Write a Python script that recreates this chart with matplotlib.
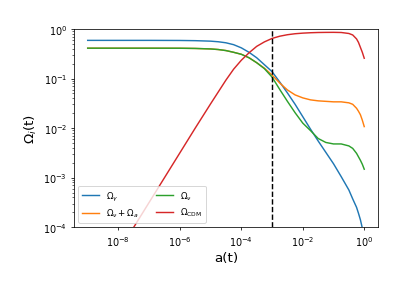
import numpy as np
import matplotlib
matplotlib.use("Agg")
import matplotlib.pyplot as plt

# scale factor grid (log10 a) and log10 of each density fraction
log_a = [-9, -8, -7, -6, -5.5, -5, -4.75, -4.5, -4.25, -4, -3.75, -3.5, -3.25, -3,
         -2.75, -2.5, -2.25, -2, -1.75, -1.5, -1.25, -1, -0.75, -0.5, -0.375, -0.25,
         -0.1875, -0.125, -0.0625, 0]

log_gamma = [-0.229, -0.229, -0.229, -0.231, -0.235, -0.245, -0.257, -0.278, -0.316, -0.38,
             -0.47, -0.58, -0.72, -0.86, -1.07, -1.29, -1.52, -1.77, -2.02, -2.26, -2.49,
             -2.72, -2.98, -3.25, -3.43, -3.6, -3.72, -3.85, -4.02, -4.25]

log_nu_a = [-0.387, -0.387, -0.387, -0.388, -0.392, -0.402, -0.414, -0.435, -0.47, -0.51,
            -0.58, -0.68, -0.79, -0.93, -1.09, -1.23, -1.33, -1.39, -1.43, -1.45, -1.46,
            -1.47, -1.47, -1.49, -1.52, -1.60, -1.66, -1.73, -1.84, -1.97]

log_nu = [-0.387, -0.387, -0.387, -0.388, -0.392, -0.402, -0.414, -0.435, -0.47, -0.51,
          -0.58, -0.68, -0.80, -0.97, -1.22, -1.46, -1.69, -1.90, -2.05, -2.21, -2.29,
          -2.32, -2.32, -2.36, -2.41, -2.51, -2.58, -2.65, -2.73, -2.83]

log_cdm = [-5.5, -4.5, -3.5, -2.5, -2.0, -1.51, -1.27, -1.03, -0.81, -0.63, -0.48, -0.35,
           -0.26, -0.19, -0.145, -0.115, -0.095, -0.083, -0.075, -0.070, -0.068, -0.067,
           -0.07, -0.09, -0.12, -0.20, -0.27, -0.37, -0.47, -0.59]

labels = [r"$\Omega_\gamma$", r"$\Omega_\nu + \Omega_a$", r"$\Omega_\nu$", r"$\Omega_{\rm CDM}$"]
a_equality = 1e-3

a = 10.0 ** np.array(log_a)
series = [log_gamma, log_nu_a, log_nu, log_cdm]

fig = plt.figure(figsize=(6, 4.25), dpi=415 / 6)
ax = fig.add_axes([0.178, 0.224, 0.733, 0.674])

for vals, lab in zip(series, labels):
    ax.plot(a, 10.0 ** np.array(vals), label=lab)

ax.axvline(a_equality, color="k", ls="--")
ax.set_xscale("log")
ax.set_yscale("log")
ax.set_ylim(1e-4, 1)
ax.set_xlabel("a(t)", fontsize=14)
ax.set_ylabel(r"$\Omega_i$(t)", fontsize=14)
ax.legend(loc="lower left", ncol=2, fontsize=9)

fig.savefig("out.png", dpi=415 / 6)
